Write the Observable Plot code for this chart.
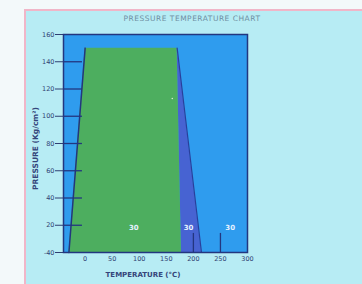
<!DOCTYPE html>
<html>
<head>
<meta charset="utf-8">
<script src="https://cdn.jsdelivr.net/npm/d3@7"></script>
<script src="https://cdn.jsdelivr.net/npm/@observablehq/plot@0.6"></script>
<style>
  html, body { margin: 0; padding: 0; background: #f3f9fa; }
  #page { position: relative; width: 362px; height: 284px; overflow: hidden; background: #f3f9fa; }
  #panel { position: absolute; left: 24px; top: 9px; width: 338px; height: 275px;
           background: #b7ecf4; border-left: 2px solid #f0b6c8; border-top: 2px solid #f0b6c8; box-sizing: border-box; }
  #title { position: absolute; left: 110px; top: 14px; width: 164px; text-align: center; white-space: nowrap;
           font: 7.5px "DejaVu Sans", sans-serif; color: #6f8fa3; letter-spacing: 0.5px; }
  #xlabel { position: absolute; left: 93px; top: 271px; width: 100px; text-align: center; white-space: nowrap;
           font: bold 7px "DejaVu Sans", sans-serif; color: #34457a; }
  #ylabel { position: absolute; left: -15px; top: 144px; width: 100px; text-align: center; white-space: nowrap;
           font: bold 7.5px "DejaVu Sans", sans-serif; color: #34457a; transform: rotate(-90deg); transform-origin: 50% 50%; }
  #chart { position: absolute; left: 24px; top: 28px; }
</style>
</head>
<body>
<div id="page">
  <div id="panel"></div>
  <div id="title"></div>
  <div id="ylabel"></div>
  <div id="xlabel"></div>
  <div id="chart"></div>
</div>
<script>
// Data
const title = "PRESSURE TEMPERATURE CHART";
const xLabel = "TEMPERATURE (°C)";
const yLabel = "PRESSURE (Kg/cm²)";
const xDomain = [-40, 300];
const yDomain = [0, 160];
const xTicks = [0, 50, 100, 150, 200, 250, 300];
const yTicks = [0, 20, 40, 60, 80, 100, 120, 140, 160];
const yTickLabels = ["-40", "20", "40", "60", "80", "100", "120", "140", "160"];

// Green region: left and right temperature boundaries at two pressures
const greenPressure = [0, 150];
const greenLeft = [-30, 0];
const greenRight = [178, 170];
// Indigo wedge to the right of the green region
const wedgePressure = [0, 150];
const wedgeLeft = [178, 170];
const wedgeRight = [215, 170];
// Region labels
const regionLabels = ["30", "30", "30"];
const regionTemps = [90, 191, 268];
const regionPressures = [18, 18, 18];
// Single point marker
const pointTemp = [161];
const pointPressure = [113];

const green = greenPressure.map((p, i) => ({p, x1: greenLeft[i], x2: greenRight[i]}));
const wedge = wedgePressure.map((p, i) => ({p, x1: wedgeLeft[i], x2: wedgeRight[i]}));
const leftEdge = greenPressure.map((p, i) => ({p, x: greenLeft[i]}));
const rightEdge = wedgePressure.map((p, i) => ({p, x: wedgeRight[i]}));
const labels = regionLabels.map((t, i) => ({t, x: regionTemps[i], p: regionPressures[i]}));
const pts = pointTemp.map((x, i) => ({x, p: pointPressure[i]}));

const navy = "#23367f";

const chart = Plot.plot({
  width: 338,
  height: 256,
  marginLeft: 39,
  marginRight: 115,
  marginTop: 6,
  marginBottom: 32,
  style: {background: "transparent", fontFamily: "DejaVu Sans, sans-serif", fontSize: "6.5px", color: "#2f3f72"},
  x: {domain: xDomain, ticks: xTicks, tickSize: 0, tickPadding: 4, tickFormat: d3.format("d"), label: null},
  y: {domain: yDomain, ticks: yTicks, tickSize: 8, tickPadding: 1,
      tickFormat: d => yTickLabels[yTicks.indexOf(d)], label: null},
  marks: [
    Plot.frame({fill: "#2f9cee"}),
    Plot.areaX(wedge, {y: "p", x1: "x1", x2: "x2", fill: "#4763d2"}),
    Plot.areaX(green, {y: "p", x1: "x1", x2: "x2", fill: "#4dae5f"}),
    Plot.line(leftEdge, {x: "x", y: "p", stroke: navy, strokeWidth: 1.5}),
    Plot.line(rightEdge, {x: "x", y: "p", stroke: "#2a3f9c", strokeWidth: 1.2}),
    Plot.ruleY(yTicks.filter(d => d > 0 && d < 160), {y: d => d, x1: -40, x2: -5, stroke: navy, strokeWidth: 1.3}),
    Plot.ruleX(xTicks.filter(d => d > 150 && d < 300), {x: d => d, y1: 0, y2: 14, stroke: navy, strokeWidth: 1.3}),
    Plot.dot(pts, {x: "x", y: "p", r: 0.8, fill: "#d8f0d0", stroke: null}),
    Plot.text(labels, {x: "x", y: "p", text: "t", fill: "#e6f1ff", fontSize: 7, fontWeight: "bold"}),
    Plot.frame({stroke: navy, strokeWidth: 1.5})
  ]
});
document.getElementById("chart").appendChild(chart);
document.getElementById("title").textContent = title;
document.getElementById("xlabel").textContent = xLabel;
document.getElementById("ylabel").textContent = yLabel;
</script>
</body>
</html>
